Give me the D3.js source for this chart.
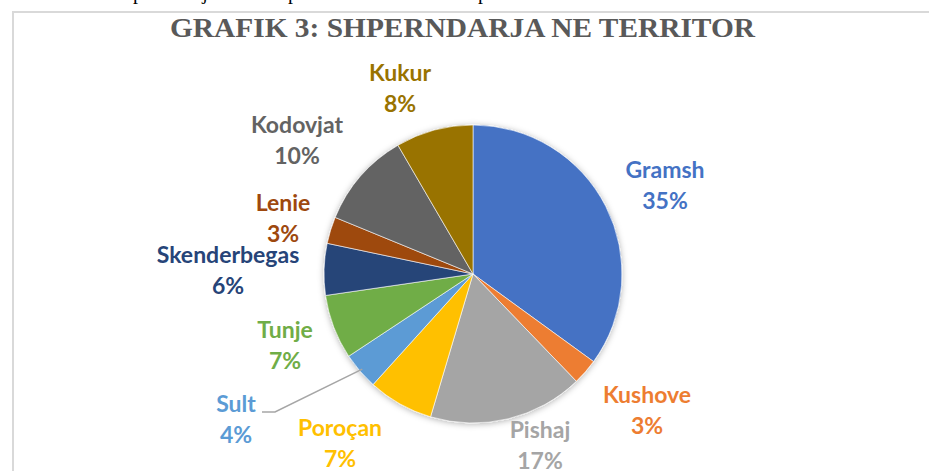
<!DOCTYPE html>
<html>
<head>
<meta charset="utf-8">
<script src="https://cdn.jsdelivr.net/npm/d3@7"></script>
<style>
  html, body { margin: 0; padding: 0; background: #fff; overflow: hidden; }
  svg { display: block; }
</style>
</head>
<body>
<svg id="chart" width="929" height="471"></svg>
<script>
// ---- data ----
const categories = ["Gramsh", "Kushove", "Pishaj", "Poroçan", "Sult", "Tunje", "Skenderbegas", "Lenie", "Kodovjat", "Kukur"];
const values = [35, 2.8, 16.8, 7.1, 4, 7, 5.6, 2.9, 10.4, 8.4];
const percentLabels = ["35%", "3%", "17%", "7%", "4%", "7%", "6%", "3%", "10%", "8%"];
const colors = ["#4472C4", "#ED7D31", "#A5A5A5", "#FFC000", "#5B9BD5", "#70AD47", "#264478", "#9E480E", "#636363", "#997300"];
const title = "GRAFIK 3: SHPERNDARJA NE TERRITOR";

// ---- layout ----
const W = 929, H = 471;
const cx = 473, cy = 274, R = 149;
// label centre positions (name line), determined from the reference layout
const labelPos = {
  "Gramsh": [665, 170], "Kushove": [647, 395], "Pishaj": [540, 430], "Poroçan": [340, 428],
  "Sult": [236, 404], "Tunje": [285, 330], "Skenderbegas": [228, 255], "Lenie": [283, 203],
  "Kodovjat": [297, 125], "Kukur": [400, 73]
};
const lineGap = 31;

const svg = d3.select("#chart");
svg.append("rect").attr("width", W).attr("height", H).attr("fill", "#fff");

// cropped line of text from the page above the chart (descenders only)
const topText = svg.append("g").attr("font-family", "'Liberation Serif', 'Times New Roman', serif")
  .attr("font-size", 20).attr("fill", "#000");
[["p", 138], ["j", 205], ["p", 293], ["p", 483]].forEach(([t, x]) => {
  topText.append("text").attr("x", x).attr("y", -1).attr("text-anchor", "middle").text(t);
});

// chart frame
svg.append("rect").attr("x", 13).attr("y", 12).attr("width", W + 20).attr("height", H + 20)
  .attr("fill", "#fff").attr("stroke", "#d9d9d9").attr("stroke-width", 2);

// title
svg.append("text")
  .attr("x", 170).attr("y", 37)
  .attr("textLength", 585).attr("lengthAdjust", "spacingAndGlyphs")
  .attr("font-family", "'Liberation Serif', 'Times New Roman', serif")
  .attr("font-weight", "bold").attr("font-size", 27).attr("fill", "#595959")
  .text(title);

// shadow filter
const defs = svg.append("defs");
const f = defs.append("filter").attr("id", "shadow").attr("x", "-20%").attr("y", "-20%").attr("width", "140%").attr("height", "140%");
f.append("feDropShadow").attr("dx", 0).attr("dy", 1).attr("stdDeviation", 3)
  .attr("flood-color", "#000").attr("flood-opacity", 0.3);

const data = categories.map((c, i) => ({ name: c, value: values[i], pct: percentLabels[i], color: colors[i] }));
const pie = d3.pie().sort(null).value(d => d.value);
const arc = d3.arc().innerRadius(0).outerRadius(R);
const arcs = pie(data);

const g = svg.append("g").attr("transform", `translate(${cx},${cy})`);
g.append("g").attr("filter", "url(#shadow)")
  .selectAll("path").data(arcs).join("path")
  .attr("d", arc)
  .attr("fill", d => d.data.color)
  .attr("stroke", "#fff").attr("stroke-width", 0.6);

// leader line for Sult
const sult = arcs.find(a => a.data.name === "Sult");
const mid = (sult.startAngle + sult.endAngle) / 2;
const edge = [cx + Math.sin(mid) * (R - 3), cy - Math.cos(mid) * (R - 3)];
const sp = labelPos["Sult"];
svg.append("polyline")
  .attr("points", [[sp[0] + 26, sp[1] + 8], [sp[0] + 39, sp[1] + 8], edge].map(p => p.join(",")).join(" "))
  .attr("fill", "none").attr("stroke", "#A6A6A6").attr("stroke-width", 1.5);

// labels
const lbl = svg.append("g").attr("font-family", "Lato, 'Open Sans', sans-serif")
  .attr("font-weight", "bold").attr("font-size", 23).attr("text-anchor", "middle");
data.forEach(d => {
  const [x, y] = labelPos[d.name];
  const t = lbl.append("text").attr("fill", d.color);
  t.append("tspan").attr("x", x).attr("y", y + 8).text(d.name);
  t.append("tspan").attr("x", x).attr("y", y + 8 + lineGap).text(d.pct);
});
</script>
</body>
</html>
